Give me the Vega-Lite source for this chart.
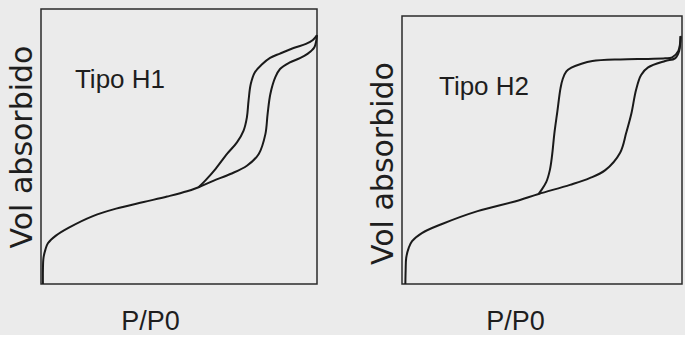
{
  "$schema": "https://vega.github.io/schema/vega-lite/v6.json",
  "background": "#ebebeb",
  "padding": {"left": 6, "top": 8, "right": 0, "bottom": 0},
  "datasets": {
    "h1": [
      {"p": 0.007, "v": 0.0, "rama": "adsorcion", "i": 1},
      {"p": 0.007, "v": 0.05, "rama": "adsorcion", "i": 2},
      {"p": 0.009, "v": 0.095, "rama": "adsorcion", "i": 3},
      {"p": 0.016, "v": 0.125, "rama": "adsorcion", "i": 4},
      {"p": 0.025, "v": 0.148, "rama": "adsorcion", "i": 5},
      {"p": 0.054, "v": 0.176, "rama": "adsorcion", "i": 6},
      {"p": 0.101, "v": 0.205, "rama": "adsorcion", "i": 7},
      {"p": 0.188, "v": 0.247, "rama": "adsorcion", "i": 8},
      {"p": 0.272, "v": 0.274, "rama": "adsorcion", "i": 9},
      {"p": 0.372, "v": 0.298, "rama": "adsorcion", "i": 10},
      {"p": 0.457, "v": 0.318, "rama": "adsorcion", "i": 11},
      {"p": 0.529, "v": 0.337, "rama": "adsorcion", "i": 12},
      {"p": 0.571, "v": 0.352, "rama": "adsorcion", "i": 13},
      {"p": 0.626, "v": 0.376, "rama": "adsorcion", "i": 14},
      {"p": 0.686, "v": 0.4, "rama": "adsorcion", "i": 15},
      {"p": 0.746, "v": 0.43, "rama": "adsorcion", "i": 16},
      {"p": 0.789, "v": 0.473, "rama": "adsorcion", "i": 17},
      {"p": 0.813, "v": 0.545, "rama": "adsorcion", "i": 18},
      {"p": 0.821, "v": 0.618, "rama": "adsorcion", "i": 19},
      {"p": 0.831, "v": 0.691, "rama": "adsorcion", "i": 20},
      {"p": 0.849, "v": 0.752, "rama": "adsorcion", "i": 21},
      {"p": 0.866, "v": 0.782, "rama": "adsorcion", "i": 22},
      {"p": 0.9, "v": 0.805, "rama": "adsorcion", "i": 23},
      {"p": 0.94, "v": 0.822, "rama": "adsorcion", "i": 24},
      {"p": 0.964, "v": 0.836, "rama": "adsorcion", "i": 25},
      {"p": 0.99, "v": 0.86, "rama": "adsorcion", "i": 26},
      {"p": 1.0, "v": 0.905, "rama": "adsorcion", "i": 27},
      {"p": 1.0, "v": 0.905, "rama": "desorcion", "i": 1},
      {"p": 0.985, "v": 0.887, "rama": "desorcion", "i": 2},
      {"p": 0.96, "v": 0.873, "rama": "desorcion", "i": 3},
      {"p": 0.915, "v": 0.858, "rama": "desorcion", "i": 4},
      {"p": 0.866, "v": 0.838, "rama": "desorcion", "i": 5},
      {"p": 0.83, "v": 0.822, "rama": "desorcion", "i": 6},
      {"p": 0.8, "v": 0.798, "rama": "desorcion", "i": 7},
      {"p": 0.775, "v": 0.77, "rama": "desorcion", "i": 8},
      {"p": 0.76, "v": 0.727, "rama": "desorcion", "i": 9},
      {"p": 0.752, "v": 0.667, "rama": "desorcion", "i": 10},
      {"p": 0.746, "v": 0.606, "rama": "desorcion", "i": 11},
      {"p": 0.734, "v": 0.558, "rama": "desorcion", "i": 12},
      {"p": 0.71, "v": 0.515, "rama": "desorcion", "i": 13},
      {"p": 0.674, "v": 0.473, "rama": "desorcion", "i": 14},
      {"p": 0.632, "v": 0.418, "rama": "desorcion", "i": 15},
      {"p": 0.595, "v": 0.376, "rama": "desorcion", "i": 16},
      {"p": 0.571, "v": 0.352, "rama": "desorcion", "i": 17}
    ],
    "h2": [
      {"p": 0.012, "v": 0.0, "rama": "adsorcion", "i": 1},
      {"p": 0.013, "v": 0.05, "rama": "adsorcion", "i": 2},
      {"p": 0.015, "v": 0.097, "rama": "adsorcion", "i": 3},
      {"p": 0.024, "v": 0.135, "rama": "adsorcion", "i": 4},
      {"p": 0.036, "v": 0.16, "rama": "adsorcion", "i": 5},
      {"p": 0.071, "v": 0.19, "rama": "adsorcion", "i": 6},
      {"p": 0.143, "v": 0.224, "rama": "adsorcion", "i": 7},
      {"p": 0.27, "v": 0.272, "rama": "adsorcion", "i": 8},
      {"p": 0.403, "v": 0.308, "rama": "adsorcion", "i": 9},
      {"p": 0.488, "v": 0.336, "rama": "adsorcion", "i": 10},
      {"p": 0.6, "v": 0.37, "rama": "adsorcion", "i": 11},
      {"p": 0.67, "v": 0.395, "rama": "adsorcion", "i": 12},
      {"p": 0.726, "v": 0.425, "rama": "adsorcion", "i": 13},
      {"p": 0.779, "v": 0.49, "rama": "adsorcion", "i": 14},
      {"p": 0.801, "v": 0.565, "rama": "adsorcion", "i": 15},
      {"p": 0.819, "v": 0.635, "rama": "adsorcion", "i": 16},
      {"p": 0.836, "v": 0.725, "rama": "adsorcion", "i": 17},
      {"p": 0.854, "v": 0.78, "rama": "adsorcion", "i": 18},
      {"p": 0.879, "v": 0.808, "rama": "adsorcion", "i": 19},
      {"p": 0.94, "v": 0.832, "rama": "adsorcion", "i": 20},
      {"p": 0.975, "v": 0.842, "rama": "adsorcion", "i": 21},
      {"p": 0.99, "v": 0.87, "rama": "adsorcion", "i": 22},
      {"p": 0.995, "v": 0.925, "rama": "adsorcion", "i": 23},
      {"p": 0.995, "v": 0.925, "rama": "desorcion", "i": 1},
      {"p": 0.987, "v": 0.87, "rama": "desorcion", "i": 2},
      {"p": 0.965, "v": 0.846, "rama": "desorcion", "i": 3},
      {"p": 0.94, "v": 0.842, "rama": "desorcion", "i": 4},
      {"p": 0.879, "v": 0.84, "rama": "desorcion", "i": 5},
      {"p": 0.78, "v": 0.838, "rama": "desorcion", "i": 6},
      {"p": 0.68, "v": 0.832, "rama": "desorcion", "i": 7},
      {"p": 0.641, "v": 0.822, "rama": "desorcion", "i": 8},
      {"p": 0.605, "v": 0.807, "rama": "desorcion", "i": 9},
      {"p": 0.587, "v": 0.793, "rama": "desorcion", "i": 10},
      {"p": 0.574, "v": 0.765, "rama": "desorcion", "i": 11},
      {"p": 0.566, "v": 0.73, "rama": "desorcion", "i": 12},
      {"p": 0.555, "v": 0.645, "rama": "desorcion", "i": 13},
      {"p": 0.544, "v": 0.56, "rama": "desorcion", "i": 14},
      {"p": 0.536, "v": 0.48, "rama": "desorcion", "i": 15},
      {"p": 0.528, "v": 0.425, "rama": "desorcion", "i": 16},
      {"p": 0.515, "v": 0.38, "rama": "desorcion", "i": 17},
      {"p": 0.488, "v": 0.336, "rama": "desorcion", "i": 18}
    ]
  },
  "spacing": 46,
  "hconcat": [
    {
      "width": 276,
      "height": 275,
      "encoding": {
        "x": {"field": "p", "type": "quantitative", "scale": {"domain": [0, 1], "nice": false, "zero": false},
              "axis": {"title": "P/P0", "titleX": 109}},
        "y": {"field": "v", "type": "quantitative", "scale": {"domain": [0, 1], "nice": false, "zero": false},
              "axis": {"title": "Vol absorbido"}}
      },
      "layer": [
        {
          "data": {"name": "h1"},
          "mark": {"type": "line", "color": "#1a1a1a", "strokeWidth": 2, "interpolate": "catmull-rom"},
          "encoding": {"detail": {"field": "rama"}, "order": {"field": "i", "type": "quantitative"}}
        },
        {
          "data": {"values": [{"p": 0.123, "v": 0.713, "tipo": "Tipo H1"}]},
          "mark": {"type": "text", "align": "left", "baseline": "alphabetic", "font": "Liberation Sans", "fontSize": 26, "color": "#1e1e1e"},
          "encoding": {"text": {"field": "tipo"}}
        }
      ]
    },
    {
      "width": 280,
      "height": 275,
      "view": {"stroke": null},
      "encoding": {
        "x": {"field": "p", "type": "quantitative", "scale": {"domain": [0, 1], "nice": false, "zero": false},
              "axis": {"title": "P/P0", "titleX": 113}},
        "y": {"field": "v", "type": "quantitative", "scale": {"domain": [0, 1.0261], "nice": false, "zero": false},
              "axis": {"title": "Vol absorbido", "titleY": 154}}
      },
      "layer": [
        {
          "data": {"values": [{"p": 0, "p2": 1, "v": 0, "v2": 1}]},
          "mark": {"type": "rect", "filled": false, "stroke": "#2b2b2b", "strokeWidth": 1.5},
          "encoding": {"x2": {"field": "p2"}, "y2": {"field": "v2"}}
        },
        {
          "data": {"name": "h2"},
          "mark": {"type": "line", "color": "#1a1a1a", "strokeWidth": 2, "interpolate": "catmull-rom"},
          "encoding": {"detail": {"field": "rama"}, "order": {"field": "i", "type": "quantitative"}}
        },
        {
          "data": {"values": [{"p": 0.132, "v": 0.705, "tipo": "Tipo H2"}]},
          "mark": {"type": "text", "align": "left", "baseline": "alphabetic", "font": "Liberation Sans", "fontSize": 26, "color": "#1e1e1e"},
          "encoding": {"text": {"field": "tipo"}}
        }
      ]
    }
  ],
  "config": {
    "view": {"stroke": "#2b2b2b", "strokeWidth": 1.5},
    "axis": {
      "labels": false,
      "ticks": false,
      "domain": false,
      "grid": false,
      "titleFontWeight": "normal",
      "titleColor": "#1e1e1e"
    },
    "axisX": {"titleFont": "Liberation Sans", "titleFontSize": 27, "titlePadding": 24},
    "axisY": {"titleFont": "DejaVu Sans", "titleFontSize": 30, "titlePadding": 4}
  }
}
